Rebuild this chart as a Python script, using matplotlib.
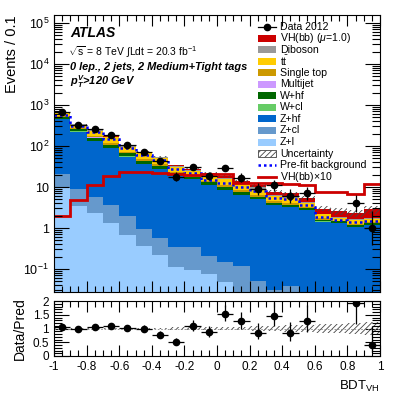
import numpy as np
import matplotlib
matplotlib.use("Agg")
import matplotlib.pyplot as plt
from matplotlib.patches import Rectangle
from matplotlib.lines import Line2D
from matplotlib.ticker import FixedLocator, NullFormatter, MultipleLocator

plt.rcParams['font.family'] = ['Liberation Sans', 'DejaVu Sans']
plt.rcParams['mathtext.fontset'] = 'custom'
plt.rcParams['mathtext.rm'] = 'Liberation Sans'
plt.rcParams['mathtext.it'] = 'Liberation Sans:italic'
plt.rcParams['mathtext.bf'] = 'Liberation Sans:bold:italic'
plt.rcParams['hatch.linewidth'] = 0.6
plt.rcParams['hatch.color'] = '#444444'

# ---------------- data ----------------
bin_edges = [-1.0, -0.9, -0.8, -0.7, -0.6, -0.5, -0.4, -0.3, -0.2, -0.1, 0.0,
             0.1, 0.2, 0.3, 0.4, 0.5, 0.6, 0.7, 0.8, 0.9, 1.0]

z_l = [9.3, 3.4, 2.35, 1.35, 0.67, 0.37, 0.22, 0.11, 0.095, 0.074, 0.048, 0.02,
       0.015, 0.012, 0.01, 0.008, 0.006, 0.005, 0.004, 0.003]
z_cl = [11.7, 5.4, 3.25, 2.25, 1.29, 0.56, 0.36, 0.24, 0.255, 0.13, 0.10, 0.10,
        0.035, 0.019, 0.028, 0.007, 0.006, 0.005, 0.004, 0.003]
z_hf = [426, 214, 128, 84, 53, 35, 26.4, 17.8, 15.0, 10.8, 8.35, 6.3, 4.95, 3.57,
        3.26, 2.73, 1.41, 1.29, 1.06, 1.17]
w_cl = [7, 3.5, 2.5, 1.7, 1.1, 0.8, 0.55, 0.33, 0.24, 0.2, 0.15, 0.1, 0.08, 0.05,
        0.04, 0.03, 0.02, 0.015, 0.013, 0.017]
w_hf = [62, 32.5, 23.5, 15.3, 9.9, 7.2, 4.95, 2.97, 2.16, 1.8, 1.35, 0.9, 0.72,
        0.45, 0.38, 0.27, 0.16, 0.135, 0.117, 0.153]
multijet = [4, 2, 2, 1, 0.6, 0.4, 0.3, 0.2, 0.15, 0.1, 0.1, 0.08, 0.05, 0.03,
            0.02, 0.01, 0.01, 0.01, 0.01, 0.01]
single_top = [20, 12, 13, 10, 5, 4, 3.3, 1.8, 1.4, 1.2, 1.1, 0.9, 0.6, 0.4, 0.33,
              0.21, 0.11, 0.06, 0.07, 0.06]
ttbar = [85, 57, 63, 46, 24, 19, 14, 7, 5.5, 4.6, 4.4, 3.6, 2.7, 1.6, 1.4, 0.88,
         0.42, 0.26, 0.3, 0.26]
diboson = [15, 9.5, 11, 8, 4, 3.2, 2.7, 1.5, 1.2, 1.0, 0.9, 0.8, 0.65, 0.37, 0.3,
           0.2, 0.09, 0.05, 0.06, 0.05]
vh = [0.20, 0.48, 1.15, 1.86, 2.36, 2.36, 2.24, 2.05, 2.00, 2.10, 2.10, 1.23,
      1.23, 1.23, 1.20, 1.15, 0.76, 0.76, 0.66, 1.17]
prefit = [570, 300, 215, 150, 88, 62, 45, 27, 22, 15, 12.3, 9.8, 8.1, 5.3, 5.0,
          3.6, 1.9, 1.6, 1.42, 1.5]
rel_unc = [0.03, 0.03, 0.03, 0.03, 0.03, 0.03, 0.03, 0.04, 0.04, 0.05, 0.06, 0.07,
           0.08, 0.09, 0.11, 0.12, 0.15, 0.18, 0.20, 0.22]

data = [660, 328, 258, 186, 103, 72, 42, 18, 31, 19, 29, 17, 9, 11, 6, 7, 0, 0, 4, 1]
ratio = [1.04, 0.97, 1.04, 1.09, 1.02, 0.99, 0.78, 0.52, 1.10, 0.86, 1.54, 1.26,
         0.85, 1.45, 0.82, 1.28, 0.0, 0.0, 1.92, 0.41]

# ---------------- derived ----------------
edges = np.array(bin_edges)
centers = 0.5 * (edges[:-1] + edges[1:])
halfw = 0.5 * np.diff(edges)

stack_order = [  # bottom -> top
    ('Z+l', z_l, '#99ccff'),
    ('Z+cl', z_cl, '#6699cc'),
    ('Z+hf', z_hf, '#0066cc'),
    ('W+cl', w_cl, '#66cc66'),
    ('W+hf', w_hf, '#006600'),
    ('Multijet', multijet, '#cc99ff'),
    ('Single top', single_top, '#cc9900'),
    (r'$\mathrm{t\bar{t}}$', ttbar, '#ffcc00'),
    ('Diboson', diboson, '#999999'),
    (r'VH(bb) ($\mu$=1.0)', vh, '#cc0000'),
]

cums = []
running = np.zeros(len(centers))
for name, vals, col in stack_order:
    running = running + np.array(vals, dtype=float)
    cums.append(running.copy())
total = running

Y_MIN, Y_MAX = 0.0275, 1.57e5

fig = plt.figure(figsize=(4.11, 3.95), dpi=100)
W, H = 411.0, 395.0
ax = fig.add_axes([54 / W, 1 - 292 / H, 326 / W, 277 / H])
axr = fig.add_axes([54 / W, 1 - 356 / H, 326 / W, 55 / H])

# stack drawn from top cumulative down
for (name, vals, col), cum in reversed(list(zip(stack_order, cums))):
    ax.stairs(cum, edges, baseline=Y_MIN, fill=True, color=col, lw=0)

# uncertainty band
unc = np.array(rel_unc)
ax.stairs(total * (1 + unc), edges, baseline=total * (1 - unc), fill=True,
          facecolor='none', edgecolor='#444444', hatch='//////', lw=0)

# pre-fit background
ax.stairs(prefit, edges, color='#0000ff', lw=1.8, ls=(0, (1, 1.2)), baseline=None)
# VH x10
ax.stairs(np.array(vh) * 10, edges, color='#cc0000', lw=2.0, baseline=None)

# data
d = np.array(data, dtype=float)
m = d > 0
up = 0.5 + np.sqrt(d + 0.25)
dn = -0.5 + np.sqrt(d + 0.25)
ax.errorbar(centers[m], d[m], xerr=halfw[m], yerr=[dn[m], up[m]], fmt='o',
            color='black', ms=4.5, elinewidth=0.9, capsize=0, zorder=10)

ax.set_xlim(-1, 1)
ax.set_yscale('log')
ax.set_ylim(Y_MIN, Y_MAX)
ax.yaxis.set_major_locator(FixedLocator([0.1, 1, 10, 100, 1e3, 1e4, 1e5]))
ax.set_yticklabels([r'$10^{-1}$', '1', '10', r'$10^{2}$', r'$10^{3}$',
                    r'$10^{4}$', r'$10^{5}$'])
minors = [k * 10.0 ** e for e in range(-2, 6) for k in range(2, 10)]
ax.yaxis.set_minor_locator(FixedLocator(minors))
ax.yaxis.set_minor_formatter(NullFormatter())
ax.xaxis.set_major_locator(MultipleLocator(0.2))
ax.xaxis.set_minor_locator(MultipleLocator(0.05))
ax.set_xticklabels([])
ax.tick_params(which='both', direction='in', top=True, right=True, labelsize=9)
ax.tick_params(which='major', length=8, width=0.8)
ax.tick_params(which='minor', length=4, width=0.8)
ax.tick_params(axis='y', which='major', length=11)
ax.tick_params(axis='y', which='minor', length=5.5)
ax.set_ylabel('Events / 0.1', fontsize=10.5, loc='top', labelpad=3)

# text
ax.text((70 - 54) / 326, 1 - (33 - 15) / 277, 'ATLAS', transform=ax.transAxes,
        fontsize=10, fontweight='bold', fontstyle='italic', va='center', ha='left')
ax.text((68 - 54) / 326, 1 - (52 - 15) / 277,
        r'$\sqrt{\mathrm{s}}$ = 8 TeV $\int$Ldt = 20.3 fb$^{-1}$',
        transform=ax.transAxes, fontsize=7.5, va='center', ha='left')
ax.text((70 - 54) / 326, 1 - (67 - 15) / 277, '0 lep., 2 jets, 2 Medium+Tight tags',
        transform=ax.transAxes, fontsize=7.9, fontweight='bold', fontstyle='italic',
        va='center', ha='left')
ax.text((70 - 54) / 326, 1 - (82 - 15) / 277,
        r'$\mathbf{p}_{\mathbf{T}}^{\mathbf{V}}$>120 GeV',
        transform=ax.transAxes, fontsize=7.9, fontweight='bold', fontstyle='italic',
        va='center', ha='left')

# legend (manual)
lx0 = (258 - 54) / 326
lw_ = 18 / 326
ltx = (280 - 54) / 326
ly0 = 1 - (26.7 - 15) / 277
ldy = 11.53 / 277
ph = 7 / 277
entries = [('data', 'Data 2012', None)]
for name, vals, col in reversed(stack_order):
    entries.append(('box', name, col))
entries.append(('hatch', 'Uncertainty', None))
entries.append(('prefit', 'Pre-fit background', None))
entries.append(('vh10', r'VH(bb)$\times$10', None))
for i, (kind, label, col) in enumerate(entries):
    yc = ly0 - i * ldy
    if kind == 'box':
        ax.add_patch(Rectangle((lx0, yc - ph / 2), lw_, ph, transform=ax.transAxes,
                               facecolor=col, edgecolor='none', zorder=20))
    elif kind == 'hatch':
        ax.add_patch(Rectangle((lx0, yc - ph / 2), lw_, ph, transform=ax.transAxes,
                               facecolor='white', edgecolor='#444444', hatch='//////',
                               lw=0.6, zorder=20))
    elif kind == 'data':
        ax.add_line(Line2D([lx0, lx0 + lw_], [yc, yc], transform=ax.transAxes,
                           color='black', lw=0.9, zorder=20))
        ax.add_line(Line2D([lx0 + lw_ / 2], [yc], transform=ax.transAxes, marker='o',
                           ms=4.5, color='black', zorder=21))
    elif kind == 'prefit':
        ax.add_line(Line2D([lx0, lx0 + lw_], [yc, yc], transform=ax.transAxes,
                           color='#0000ff', lw=1.8, ls=(0, (1, 1.2)), zorder=20))
    elif kind == 'vh10':
        ax.add_line(Line2D([lx0, lx0 + lw_], [yc, yc], transform=ax.transAxes,
                           color='#cc0000', lw=2.0, zorder=20))
    ax.text(ltx, yc, label, transform=ax.transAxes, fontsize=7.6, va='center',
            ha='left', zorder=20)

# ---------------- ratio ----------------
axr.stairs(1 + unc, edges, baseline=1 - unc, fill=True, facecolor='none',
           edgecolor='#444444', hatch='//////', lw=0)
axr.axhline(1, color='#888888', lw=0.6, ls=(0, (2, 2)))
r = np.array(ratio)
rerr_up = r * up / np.where(d > 0, d, 1)
rerr_dn = r * dn / np.where(d > 0, d, 1)
axr.errorbar(centers[m], r[m], xerr=halfw[m], yerr=[rerr_dn[m], rerr_up[m]],
             fmt='o', color='black', ms=4.5, elinewidth=0.9, capsize=0, zorder=10)
axr.set_xlim(-1, 1)
axr.set_ylim(0, 2)
axr.yaxis.set_major_locator(FixedLocator([0, 0.5, 1, 1.5, 2]))
axr.set_yticklabels(['0', '0.5', '1', '1.5', '2'])
axr.yaxis.set_minor_locator(MultipleLocator(0.1))
axr.xaxis.set_minor_locator(MultipleLocator(0.05))
axr.set_xticks([-1, -0.8, -0.6, -0.4, -0.2, 0, 0.2, 0.4, 0.6, 0.8, 1])
axr.set_xticklabels(['-1', '-0.8', '-0.6', '-0.4', '-0.2', '0', '0.2', '0.4',
                     '0.6', '0.8', '1'])
axr.tick_params(which='both', direction='in', top=True, right=True, labelsize=8.5)
axr.tick_params(which='major', length=8, width=0.8)
axr.tick_params(which='minor', length=4, width=0.8)
axr.tick_params(axis='y', which='major', length=11)
axr.tick_params(axis='y', which='minor', length=5.5)
axr.set_ylabel('Data/Pred', fontsize=10)
axr.set_xlabel(r'BDT$_{\mathrm{VH}}$', fontsize=9.5, loc='right')

fig.savefig('out.png', dpi=100)
